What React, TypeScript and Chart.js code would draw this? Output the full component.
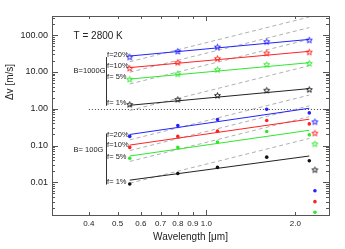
import React, { useEffect, useRef } from 'react';
import { Chart, registerables } from 'chart.js';
Chart.register(...registerables);

// ---------- data ----------
const wavelengths = [0.55, 0.8, 1.09, 1.6, 2.23];
const extraWavelength = 2.33;
const lineEnds = [0.55, 2.23];

const stars1000Blue = [25.3, 36.2, 47.3, 66.2, 73.2];
const stars1000Red = [12.5, 17.9, 22.9, 32.5, 34.6];
const stars1000Green = [6.3, 8.8, 11.5, 15.8, 17.1];
const stars1000Black = [1.3, 1.78, 2.28, 3.17, 3.31];

const dots100Blue = [0.177, 0.351, 0.51, 0.97, 0.77];
const dots100Red = [0.089, 0.177, 0.246, 0.48, 0.387];
const dots100Green = [0.045, 0.089, 0.124, 0.241, 0.195];
const dots100Black = [0.009, 0.0175, 0.0255, 0.0485, 0.0385];

const extraStarsBRGK = [0.44, 0.217, 0.111, 0.0219];
const extraDotsBRG = [0.0059, 0.003, 0.00154];

const fit1000Blue = [27, 76.4];
const fit1000Red = [13.1, 36.2];
const fit1000Green = [6.4, 17.8];
const fit1000Black = [1.24, 3.52];
const fit100Blue = [0.2, 1.03];
const fit100Red = [0.103, 0.52];
const fit100Green = [0.052, 0.26];
const fit100Black = [0.0115, 0.052];

const ref1000Blue = [18.9, 310];
const ref1000Red = [9.8, 160];
const ref1000Green = [4.7, 77];
const ref1000Black = [0.9, 14.8];
const ref100Blue = [0.143, 2.35];
const ref100Red = [0.073, 1.2];
const ref100Green = [0.037, 0.61];
const ref100Black = [0.0095, 0.156];

const xTickValues = [0.4, 0.5, 0.6, 0.7, 0.8, 0.9, 1.0, 2.0];
const yTickValues = [0.01, 0.1, 1, 10, 100];

const fLabels = ['f=20%', 'f=10%', 'f= 5%', 'f= 1%'];
const fLabelY1000 = [29.5, 14.8, 7.45, 1.41];
const fLabelY100 = [0.2, 0.101, 0.0485, 0.0101];
const bracket1000 = [25.4, 1.2];
const bracket100 = [0.213, 0.0087];
const groupLabels = ['B=1000G', 'B= 100G'];
const groupLabelY = [10.4, 0.075];
const tempLabel = 'T = 2800 K';
const tempLabelY = 94;
const labelX = 0.355;
const bracketX = 0.458;
const fLabelX = 0.461;

const BLUE = '#2222ff';
const RED = '#ff2222';
const GREEN = '#2ee82e';
const BLACK = '#111111';
const GRAY = '#b0b0b0';
const FONT = '"Liberation Sans", Arial, sans-serif';

const pts = (xs: number[], ys: number[]) => xs.map((x, i) => ({ x, y: ys[i] }));

function makeStar(color: string) {
  const c = document.createElement('canvas');
  c.width = 9;
  c.height = 9;
  const g = c.getContext('2d')!;
  const R = 3.1, r = 1.3, cx = 4.5, cy = 4.7;
  g.beginPath();
  for (let i = 0; i < 10; i++) {
    const a = -Math.PI / 2 + (i * Math.PI) / 5;
    const rad = i % 2 === 0 ? R : r;
    const px = cx + rad * Math.cos(a);
    const py = cy + rad * Math.sin(a);
    if (i === 0) g.moveTo(px, py);
    else g.lineTo(px, py);
  }
  g.closePath();
  g.strokeStyle = color;
  g.lineWidth = 1;
  g.stroke();
  return c;
}

export default function App() {
  const ref = useRef<HTMLCanvasElement>(null);
  useEffect(() => {
    const starB = makeStar(BLUE);
    const starR = makeStar(RED);
    const starG = makeStar(GREEN);
    const starK = makeStar('#222');

    const starSet = (data: number[], img: HTMLCanvasElement, color: string) => ({
      data: pts(wavelengths, data),
      pointStyle: img as any,
      pointRadius: 4,
      borderColor: color,
      backgroundColor: color,
      showLine: false,
      order: 0,
    });
    const dotSet = (data: { x: number; y: number }[], color: any) => ({
      data,
      pointStyle: 'circle',
      pointRadius: 1.8,
      borderWidth: 0,
      backgroundColor: color,
      borderColor: color,
      showLine: false,
      order: 0,
    });
    const lineSet = (data: number[], color: string, dashed: boolean) => ({
      data: pts(lineEnds, data),
      showLine: true,
      pointRadius: 0,
      borderColor: color,
      borderWidth: 1,
      borderDash: dashed ? [4, 3] : [],
      fill: false,
      order: dashed ? 2 : 1,
    });

    const datasets: any[] = [
      starSet(stars1000Blue, starB, BLUE),
      starSet(stars1000Red, starR, RED),
      starSet(stars1000Green, starG, GREEN),
      starSet(stars1000Black, starK, BLACK),
      dotSet(pts(wavelengths, dots100Blue), BLUE),
      dotSet(pts(wavelengths, dots100Red), RED),
      dotSet(pts(wavelengths, dots100Green), GREEN),
      dotSet(pts(wavelengths, dots100Black), BLACK),
      {
        data: extraStarsBRGK.map((y) => ({ x: extraWavelength, y })),
        pointStyle: [starB, starR, starG, starK] as any,
        pointRadius: 4,
        showLine: false,
        order: 0,
      },
      dotSet(extraDotsBRG.map((y) => ({ x: extraWavelength, y })), [BLUE, RED, GREEN]),
      lineSet(fit1000Blue, BLUE, false),
      lineSet(fit1000Red, RED, false),
      lineSet(fit1000Green, GREEN, false),
      lineSet(fit1000Black, '#222', false),
      lineSet(fit100Blue, BLUE, false),
      lineSet(fit100Red, RED, false),
      lineSet(fit100Green, GREEN, false),
      lineSet(fit100Black, '#222', false),
      lineSet(ref1000Blue, GRAY, true),
      lineSet(ref1000Red, GRAY, true),
      lineSet(ref1000Green, GRAY, true),
      lineSet(ref1000Black, GRAY, true),
      lineSet(ref100Blue, GRAY, true),
      lineSet(ref100Red, GRAY, true),
      lineSet(ref100Green, GRAY, true),
      lineSet(ref100Black, GRAY, true),
    ];

    const decor = {
      id: 'decor',
      beforeDatasetsDraw(chart: any) {
        const { ctx, chartArea, scales } = chart;
        const x = scales.x, y = scales.y;
        ctx.save();
        ctx.beginPath();
        ctx.rect(chartArea.left, chartArea.top, chartArea.right - chartArea.left, chartArea.bottom - chartArea.top);
        ctx.clip();
        ctx.setLineDash([1, 2]);
        ctx.strokeStyle = '#444';
        ctx.lineWidth = 1;
        const py = Math.round(y.getPixelForValue(1)) + 0.5;
        ctx.beginPath();
        ctx.moveTo(x.getPixelForValue(0.4), py);
        ctx.lineTo(chartArea.right, py);
        ctx.stroke();
        ctx.restore();
      },
      afterDraw(chart: any) {
        const { ctx, chartArea, scales } = chart;
        const x = scales.x, y = scales.y;
        const { left, right, top, bottom } = chartArea;
        ctx.save();
        ctx.strokeStyle = '#555';
        ctx.lineWidth = 1;
        ctx.setLineDash([]);
        ctx.strokeRect(Math.round(left) + 0.5, Math.round(top) + 0.5, Math.round(right - left), Math.round(bottom - top));
        // y ticks
        ctx.beginPath();
        for (let e = -3; e <= 3; e++) {
          for (let k = 1; k <= 9; k++) {
            const v = k * Math.pow(10, e);
            if (v < y.min || v > y.max) continue;
            const p = Math.round(y.getPixelForValue(v)) + 0.5;
            const len = k === 1 ? 6 : 3;
            ctx.moveTo(left, p);
            ctx.lineTo(left + len, p);
            ctx.moveTo(right, p);
            ctx.lineTo(right - len, p);
          }
        }
        // x ticks
        for (const v of xTickValues) {
          const p = Math.round(x.getPixelForValue(v)) + 0.5;
          const len = v === 1 ? 5 : 3;
          ctx.moveTo(p, bottom);
          ctx.lineTo(p, bottom - len);
          ctx.moveTo(p, top);
          ctx.lineTo(p, top + len);
        }
        ctx.stroke();

        // annotations
        ctx.fillStyle = '#222';
        ctx.textBaseline = 'middle';
        ctx.textAlign = 'left';
        ctx.font = `10px ${FONT}`;
        ctx.fillText(tempLabel, x.getPixelForValue(labelX), y.getPixelForValue(tempLabelY));
        ctx.font = `7.5px ${FONT}`;
        groupLabels.forEach((t, i) => {
          ctx.fillText(t, x.getPixelForValue(labelX), y.getPixelForValue(groupLabelY[i]));
        });
        fLabels.forEach((t, i) => {
          ctx.fillText(t, x.getPixelForValue(fLabelX), y.getPixelForValue(fLabelY1000[i]));
          ctx.fillText(t, x.getPixelForValue(fLabelX), y.getPixelForValue(fLabelY100[i]));
        });
        ctx.strokeStyle = '#333';
        ctx.beginPath();
        const bx = Math.round(x.getPixelForValue(bracketX)) + 0.5;
        ctx.moveTo(bx, y.getPixelForValue(bracket1000[0]));
        ctx.lineTo(bx, y.getPixelForValue(bracket1000[1]));
        ctx.moveTo(bx, y.getPixelForValue(bracket100[0]));
        ctx.lineTo(bx, y.getPixelForValue(bracket100[1]));
        ctx.stroke();

        // y axis title
        ctx.save();
        ctx.translate(10, 82);
        ctx.rotate(-Math.PI / 2);
        ctx.textAlign = 'center';
        ctx.font = `10px ${FONT}`;
        ctx.fillText('\u0394v [m/s]', 0, 0);
        ctx.restore();
        ctx.restore();
      },
    };

    const chart = new Chart(ref.current!, {
      type: 'scatter',
      data: { datasets },
      plugins: [decor],
      options: {
        animation: false,
        responsive: false,
        layout: { padding: { top: 16, right: 16, left: 0, bottom: 0 } },
        plugins: { legend: { display: false }, tooltip: { enabled: false } },
        scales: {
          x: {
            type: 'logarithmic',
            min: 0.33,
            max: 2.6,
            afterBuildTicks: (s: any) => {
              s.ticks = xTickValues.map((v) => ({ value: v }));
            },
            afterFit: (s: any) => {
              s.height = 34;
            },
            grid: { display: false, drawTicks: false },
            border: { display: false },
            ticks: {
              autoSkip: false,
              maxRotation: 0,
              padding: 4,
              color: '#222',
              font: { size: 8, family: FONT },
              callback: (v: any) => Number(v).toFixed(1),
            },
            title: {
              display: true,
              text: 'Wavelength [\u03bcm]',
              color: '#222',
              font: { size: 10, family: FONT },
              padding: { top: 0, bottom: 6 },
            },
          },
          y: {
            type: 'logarithmic',
            min: 0.0013,
            max: 330,
            afterBuildTicks: (s: any) => {
              s.ticks = yTickValues.map((v) => ({ value: v }));
            },
            afterFit: (s: any) => {
              s.width = 52;
            },
            grid: { display: false, drawTicks: false },
            border: { display: false },
            ticks: {
              autoSkip: false,
              padding: 4,
              color: '#222',
              font: { size: 9, family: FONT },
              callback: (v: any) => Number(v).toFixed(2),
            },
          },
        },
      } as any,
    });
    return () => chart.destroy();
  }, []);

  return (
    <div style={{ position: 'fixed', left: 0, top: 0, width: 345, height: 249, background: '#fff' }}>
      <canvas ref={ref} width={345} height={249} style={{ display: 'block' }} />
    </div>
  );
}
